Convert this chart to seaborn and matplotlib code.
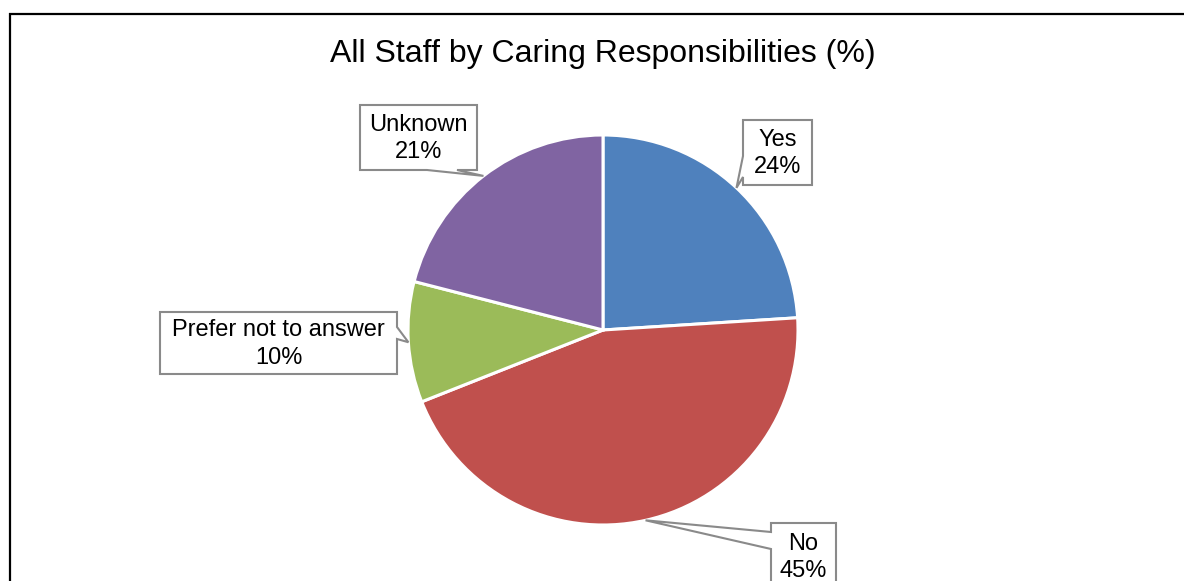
import matplotlib
matplotlib.use("Agg")
import matplotlib.pyplot as plt
from matplotlib.patches import Polygon
import numpy as np
import seaborn as sns

# Survey breakdown
categories = ["Yes", "No", "Prefer not to answer", "Unknown"]
percentages = [24, 45, 10, 21]
title = "All Staff by Caring Responsibilities (%)"

sns.set_theme(style="white")
plt.rcParams["font.family"] = ["Liberation Sans", "DejaVu Sans"]

colors = ["#4F81BD", "#C0504D", "#9BBB59", "#8064A2"]

W, H = 1184, 581
fig = plt.figure(figsize=(W / 100, H / 100), dpi=100)
ax = fig.add_axes([0, 0, 1, 1])


def Y(y):
    """Convert a top-down pixel row to the axis' bottom-up coordinate."""
    return H - y


cx, cy, R = 603, 330, 195
wedges, _ = ax.pie(
    percentages,
    colors=colors,
    startangle=90,
    counterclock=False,
    center=(cx, Y(cy)),
    radius=R,
    wedgeprops=dict(edgecolor="white", linewidth=2.2),
)
ax.set_aspect("auto")
ax.set_xlim(0, W)
ax.set_ylim(0, H)
ax.axis("off")

ax.text(cx, Y(54), title, ha="center", va="center", fontsize=23, color="black")

# Callout boxes: (x0, y0, x1, y1) box in pixels, side that carries the pointer,
# and the span of the pointer's base along that side.
callouts = {
    "Yes": dict(box=(743, 120, 812, 185), side="left", base=(156, 177)),
    "No": dict(box=(771, 523, 836, 590), side="left", base=(532, 549)),
    "Prefer not to answer": dict(box=(160, 312, 397, 374), side="right", base=(327, 339)),
    "Unknown": dict(box=(360, 105, 477, 170), side="bottom", base=(427, 457)),
}

for wedge, cat, pct in zip(wedges, categories, percentages):
    mid = np.deg2rad((wedge.theta1 + wedge.theta2) / 2)
    tx = cx + R * np.cos(mid)
    ty = Y(cy) + R * np.sin(mid)
    c = callouts[cat]
    x0, y0, x1, y1 = c["box"]
    a, b = c["base"]
    tl, tr, br, bl = (x0, Y(y0)), (x1, Y(y0)), (x1, Y(y1)), (x0, Y(y1))
    tip = (tx, ty)
    if c["side"] == "bottom":
        verts = [tl, tr, br, (b, Y(y1)), tip, (a, Y(y1)), bl]
    elif c["side"] == "left":
        verts = [tl, tr, br, bl, (x0, Y(b)), tip, (x0, Y(a))]
    else:
        verts = [tl, tr, (x1, Y(a)), tip, (x1, Y(b)), br, bl]
    ax.add_patch(Polygon(verts, closed=True, facecolor="white",
                         edgecolor="#8a8a8a", linewidth=1.5, zorder=3))
    ax.text((x0 + x1) / 2, Y((y0 + y1) / 2 + 1), f"{cat}\n{pct}%",
            ha="center", va="center", multialignment="center",
            fontsize=17, linespacing=1.3, color="black", zorder=4)

# Chart frame (left and top edges)
ax.plot([10, 10], [Y(13), Y(H + 5)], color="black", linewidth=1.6,
        solid_capstyle="butt", zorder=5)
ax.plot([9, W + 5], [Y(13.5), Y(13.5)], color="black", linewidth=1.6,
        solid_capstyle="butt", zorder=5)

fig.savefig("out.png", dpi=100, facecolor="white")
